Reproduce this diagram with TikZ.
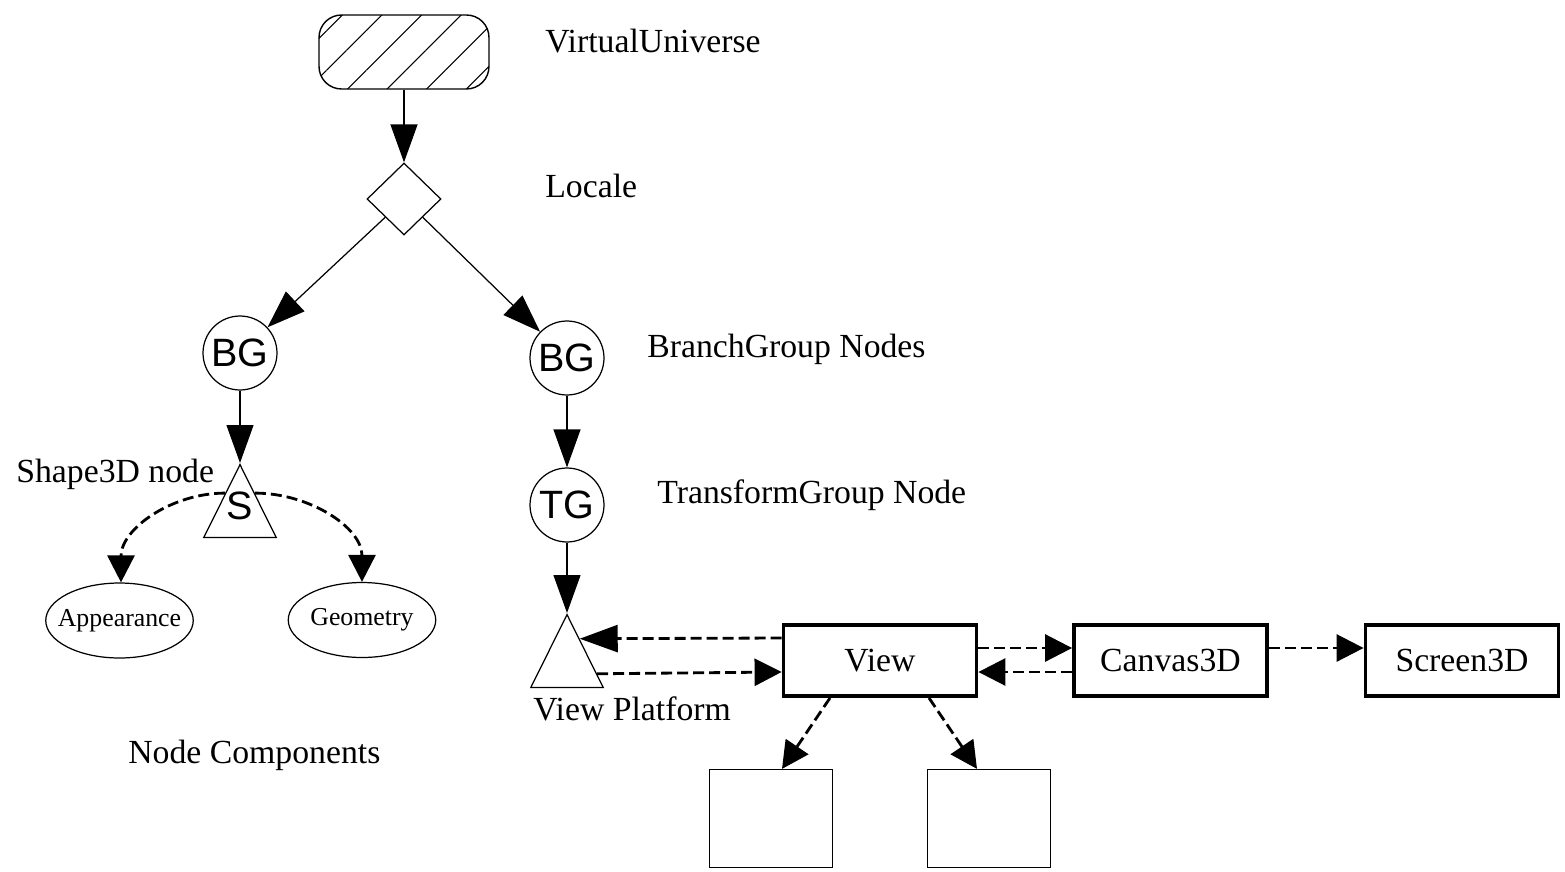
\documentclass[tikz,border=0pt]{standalone}
\usepackage{fontspec}
\setmainfont{Liberation Serif}
\setsansfont{Liberation Sans}
\usetikzlibrary{shapes.geometric}
\usetikzlibrary{arrows.meta}
\usetikzlibrary{patterns.meta}
\usetikzlibrary{calc}
\tikzset{
    grpnode/.style = {circle, draw=black, line width=0.7pt, minimum size=1.48cm, inner sep=0pt, font=\sffamily\fontsize{22.5pt}{25pt}\selectfont},
    locnode/.style = {diamond, draw=black, line width=0.7pt, minimum width=1.48cm, minimum height=1.44cm, inner sep=0pt},
    vunode/.style = {rectangle, rounded corners=0.45cm, draw=black, line width=0.8pt, minimum width=3.4cm, minimum height=1.48cm, pattern={Lines[angle=45,distance=0.56cm,line width=0.6pt]}},
    trinode/.style = {isosceles triangle, isosceles triangle stretches, shape border rotate=90, draw=black, line width=0.7pt, minimum width=1.45cm, minimum height=1.46cm, inner sep=0pt, anchor=apex},
    trilbl/.style = {inner sep=0pt, font=\sffamily\fontsize{22.5pt}{25pt}\selectfont},
    compnode/.style = {ellipse, draw=black, line width=0.7pt, minimum width=2.95cm, minimum height=1.5cm, inner xsep=-0.2cm, inner ysep=0pt, font=\fontsize{14.7pt}{17pt}\selectfont},
    boxnode/.style = {rectangle, draw=black, line width=2.2pt, minimum width=3.86cm, minimum height=1.42cm, font=\fontsize{19.2pt}{23pt}\selectfont},
    plainbox/.style = {rectangle, draw=black, line width=0.7pt, minimum width=2.46cm, minimum height=1.96cm},
    lbl/.style = {anchor=base west, inner sep=0pt, font=\fontsize{19.2pt}{23pt}\selectfont},
    edgen/.style = {-{Triangle[length=0.76cm,width=0.54cm]}, line width=0.7pt},
    edged/.style = {-{Triangle[length=0.76cm,width=0.54cm]}, line width=1.6pt, dash pattern=on 0.22cm off 0.1cm}, % long tip
    edgeds/.style = {-{Triangle[length=0.54cm,width=0.54cm]}, line width=1.6pt, dash pattern=on 0.22cm off 0.1cm}, % short tip
}

\begin{document}
\begin{tikzpicture}[x=0.02cm,y=-0.02cm]
\useasboundingbox (0,0) rectangle (1565,872);
\node[vunode] at (404,52) (vu) {};
\node[locnode] at (404,199) (loc) {};
\node[grpnode] at (240,353) (bg1) {BG};
\node[grpnode] at (567,358) (bg2) {BG};
\node[grpnode] at (567,505) (tg) {TG};
\node[trinode] at (240,463) (s) {};
\node[trilbl] at (240,506) (stxt) {S};
\node[trinode] at (567,613) (vp) {};
\node[compnode] at (119.5,620.5) (app) {Appearance};
\node[compnode] at (362,620) (geo) {Geometry};
\node[boxnode] at (880,660.5) (view) {View};
\node[boxnode] at (1170.5,660.5) (canvas) {Canvas3D};
\node[boxnode] at (1462,660.5) (screen) {Screen3D};
\node[plainbox] at (771,818.5) (pa) {};
\node[plainbox] at (989,818.5) (pb) {};
%
\node[lbl] at (545,52) (tvu) {VirtualUniverse};
\node[lbl] at (545,197) (tloc) {Locale};
\node[lbl] at (647,357) (tbg) {BranchGroup Nodes};
\node[lbl] at (657,503) (ttg) {TransformGroup Node};
\node[lbl] at (16,482) (ts) {Shape3D node};
\node[lbl] at (533,720) (tvp) {View Platform};
\node[lbl] at (128,763) (tnc) {Node Components};
%
\draw[edgen] (vu) -- (loc);
\draw[edgen] (loc.south west) -- (bg1);
\draw[edgen] (loc.south east) -- (bg2);
\draw[edgen] (bg1) -- (s.apex);
\draw[edgen] (bg2) -- (tg);
\draw[edgen] (tg) -- (vp.apex);
\draw[edgeds] ($(s.apex)!0.4!(s.left corner)$) to[out=180,in=90] ([xshift=0.03cm]app.north);
\draw[edgeds] ($(s.apex)!0.4!(s.right corner)$) to[out=0,in=90] (geo.north);
\draw[edged] ([yshift=0.45cm]view.west) -- ($(vp.apex)!0.342!(vp.right corner)$);
\draw[edgeds] ($(vp.apex)!0.808!(vp.right corner)$) -- ([yshift=-0.23cm]view.west);
\draw[edgeds] ([yshift=0.25cm]view.east) -- ([yshift=0.25cm]canvas.west);
\draw[edgeds] ([yshift=-0.23cm]canvas.west) -- ([yshift=-0.23cm]view.east);
\draw[edgeds] ([yshift=0.25cm]canvas.east) -- ([yshift=0.25cm]screen.west);
\draw[edgeds] ([xshift=-1.0cm]view.south) -- ([xshift=0.22cm]pa.north);
\draw[edgeds] ([xshift=0.98cm]view.south) -- ([xshift=-0.24cm]pb.north);

\end{tikzpicture}
\end{document}
